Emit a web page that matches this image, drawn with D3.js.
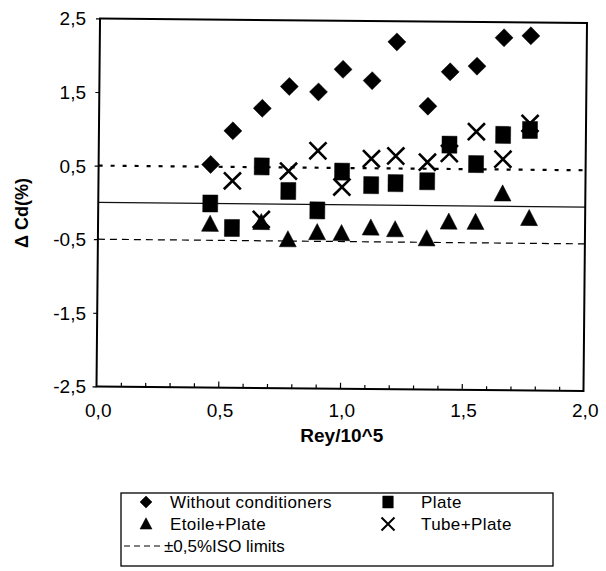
<!DOCTYPE html>
<html>
<head>
<meta charset="utf-8">
<script src="https://cdn.jsdelivr.net/npm/d3@7"></script>
<style>
  body { margin: 0; background: #fff; }
  svg { display: block; font-family: "Liberation Sans", Arial, sans-serif; }
</style>
</head>
<body>
<svg id="chart" width="606" height="571"></svg>
<script>
// Rey/10^5 positions shared by the four series
const rey = [0.46, 0.55, 0.67, 0.78, 0.90, 1.00, 1.12, 1.22, 1.35, 1.44, 1.55, 1.66, 1.77];
// delta Cd (%) per series, null where no point
const withoutCond = [0.53, 0.99, 1.30, 1.60, 1.53, 1.84, 1.69, 2.22, 1.35, 1.82, 1.90, 2.29, 2.32];
const plate       = [0.00, -0.33, 0.51, 0.18, -0.08, 0.45, 0.27, 0.30, 0.33, 0.83, 0.57, 0.97, 1.04];
const etoilePlate = [-0.28, null, -0.25, -0.48, -0.38, -0.39, -0.31, -0.33, -0.45, -0.22, -0.22, 0.17, -0.16];
const tubePlate   = [null, 0.31, -0.21, 0.45, 0.73, 0.24, 0.63, 0.67, 0.59, 0.71, 1.01, 0.64, 1.13];

const xTicks = [0, 0.5, 1, 1.5, 2];
const yTicks = [-2.5, -1.5, -0.5, 0.5, 1.5, 2.5];
const isoLimit = 0.5;

const seriesNames = ['Without conditioners', 'Plate', 'Etoile+Plate', 'Tube+Plate'];
const isoLabel = '\u00b10,5%ISO limits';

const svg = d3.select('#chart');

const x = d3.scaleLinear().domain([0, 2]).range([98.25, 585.25]);
const y = d3.scaleLinear().domain([-2.5, 2.5]).range([388.75, 20.75]);

const locale = d3.formatLocale({decimal: ',', thousands: '.', grouping: [3], currency: ['', ''], minus: '-'});
const fmt = locale.format('.1f');

// marker shapes
function shape(type, s) {
    if (type === 'diamond') return `M0,${-s}L${s},0L0,${s}L${-s},0Z`;
    if (type === 'square') return `M${-s * 0.88},${-s}H${s * 0.88}V${s}H${-s * 0.88}Z`;
    if (type === 'triangle') return `M0,${-s * 1.05}L${s},${s * 0.85}L${-s},${s * 0.85}Z`;
    return `M${-s},${-s}L${s},${s}M${s},${-s}L${-s},${s}`;
}

// the scanned figure is slightly tilted
const cx = (x.range()[0] + x.range()[1]) / 2, cy = (y.range()[0] + y.range()[1]) / 2;
const plot = svg.append('g').attr('transform', `rotate(0.55 ${cx} ${cy})`);

/////////////////////////////
// REFERENCE LINES
/////////////////////////////
plot.append('line')
    .attr('x1', x(0)).attr('x2', x(2))
    .attr('y1', y(0)).attr('y2', y(0))
    .attr('stroke', '#111').attr('stroke-width', 1.3);

plot.append('line')
    .attr('x1', x(0)).attr('x2', x(2))
    .attr('y1', y(isoLimit)).attr('y2', y(isoLimit))
    .attr('stroke', '#000').attr('stroke-width', 2.2)
    .attr('stroke-dasharray', '4,8');

plot.append('line')
    .attr('x1', x(0)).attr('x2', x(2))
    .attr('y1', y(-isoLimit)).attr('y2', y(-isoLimit))
    .attr('stroke', '#000').attr('stroke-width', 1.2)
    .attr('stroke-dasharray', '7,5');

/////////////////////////////
// AXES (ticks only, labels below)
/////////////////////////////
plot.append('g')
    .attr('transform', `translate(0,${y(-2.5)})`)
    .call(d3.axisBottom(x).tickValues(d3.range(1, 20).map(d => d / 10)).tickSize(-4).tickFormat(''))
    .call(g => g.select('.domain').remove())
    .call(g => g.selectAll('line').attr('stroke-width', 1.2)
        .attr('y2', d => Math.abs(d * 2 - Math.round(d * 2)) < 1e-6 ? -6 : -4));

plot.append('g')
    .attr('transform', `translate(${x(0)},0)`)
    .call(d3.axisLeft(y).tickValues(yTicks).tickSize(4).tickFormat(''))
    .call(g => g.select('.domain').remove())
    .call(g => g.selectAll('line').attr('stroke-width', 1.2));

plot.append('rect')
    .attr('x', x(0)).attr('y', y(2.5))
    .attr('width', x(2) - x(0)).attr('height', y(-2.5) - y(2.5))
    .attr('fill', 'none').attr('stroke', '#000').attr('stroke-width', 2);

/////////////////////////////
// POINTS
/////////////////////////////
const series = [
    {vals: withoutCond, type: 'diamond', s: 9},
    {vals: plate, type: 'square', s: 8.5},
    {vals: etoilePlate, type: 'triangle', s: 8.5},
    {vals: tubePlate, type: 'cross', s: 8.5}
];

series.forEach(sr => {
    const pts = rey.map((r, i) => ({r, v: sr.vals[i]})).filter(d => d.v !== null);
    plot.append('g')
        .selectAll('path')
        .data(pts)
        .enter()
        .append('path')
            .attr('transform', d => `translate(${x(d.r)},${y(d.v)})`)
            .attr('d', shape(sr.type, sr.s))
            .attr('fill', sr.type === 'cross' ? 'none' : '#000')
            .attr('stroke', '#000')
            .attr('stroke-width', sr.type === 'cross' ? 2.6 : 0.5);
});

/////////////////////////////
// LABELS
/////////////////////////////
svg.append('g')
    .selectAll('text')
    .data(yTicks)
    .enter()
    .append('text')
        .attr('x', 86)
        .attr('y', d => y(d) - 2)
        .attr('dy', '0.35em')
        .attr('text-anchor', 'end')
        .attr('font-size', 19)
        .text(d => fmt(d));

svg.append('g')
    .selectAll('text')
    .data(xTicks)
    .enter()
    .append('text')
        .attr('x', d => x(d))
        .attr('y', 410)
        .attr('dy', '0.35em')
        .attr('text-anchor', 'middle')
        .attr('font-size', 19)
        .text(d => fmt(d));

svg.append('text')
    .attr('x', cx).attr('y', 435).attr('dy', '0.35em')
    .attr('text-anchor', 'middle')
    .attr('font-size', 19).attr('font-weight', 'bold')
    .text('Rey/10^5');

svg.append('text')
    .attr('transform', `translate(22,213) rotate(-90)`)
    .attr('dy', '0.35em')
    .attr('text-anchor', 'middle')
    .attr('font-size', 18).attr('font-weight', 'bold')
    .text('\u0394 Cd(%)');

/////////////////////////////
// LEGEND
/////////////////////////////
const legend = svg.append('g');
legend.append('rect')
    .attr('x', 121).attr('y', 493)
    .attr('width', 432).attr('height', 73)
    .attr('fill', 'none').attr('stroke', '#000').attr('stroke-width', 1.3);

const legendItems = [
    {name: seriesNames[0], type: 'diamond', sx: 146, tx: 170, ty: 502},
    {name: seriesNames[1], type: 'square', sx: 388, tx: 421, ty: 502},
    {name: seriesNames[2], type: 'triangle', sx: 146, tx: 170, ty: 524},
    {name: seriesNames[3], type: 'cross', sx: 388, tx: 421, ty: 524}
];

legend.selectAll('path')
    .data(legendItems)
    .enter()
    .append('path')
        .attr('transform', d => `translate(${d.sx},${d.ty})`)
        .attr('d', d => shape(d.type, d.type === 'cross' ? 6.5 : 6))
        .attr('fill', d => d.type === 'cross' ? 'none' : '#000')
        .attr('stroke', '#000')
        .attr('stroke-width', d => d.type === 'cross' ? 2 : 0.5);

legend.selectAll('text')
    .data(legendItems)
    .enter()
    .append('text')
        .attr('x', d => d.tx).attr('y', d => d.ty)
        .attr('dy', '0.35em')
        .attr('font-size', 17)
        .attr('letter-spacing', 0.4)
        .text(d => d.name);

legend.append('line')
    .attr('x1', 124).attr('x2', 162)
    .attr('y1', 546).attr('y2', 546)
    .attr('stroke', '#000').attr('stroke-width', 1.1)
    .attr('stroke-dasharray', '6,4');

legend.append('text')
    .attr('x', 164).attr('y', 546).attr('dy', '0.35em')
    .attr('font-size', 17)
    .text(isoLabel);
</script>
</body>
</html>
